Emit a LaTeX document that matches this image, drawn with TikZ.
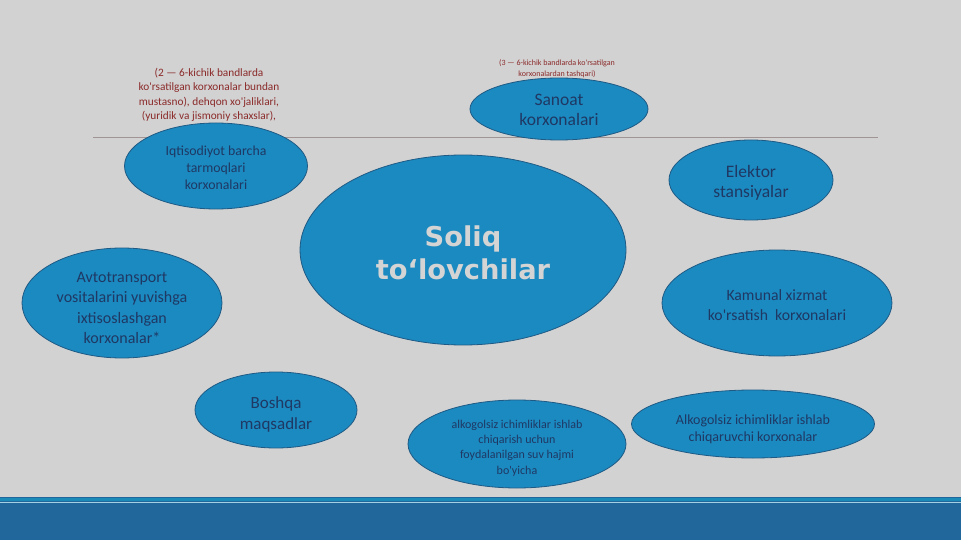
\documentclass[tikz,border=0pt]{standalone}
\usepackage{fontspec}
\usetikzlibrary{shapes.geometric}
\newfontfamily\bodyfont[Ligatures=TeXOff]{Carlito}
\newfontfamily\headfont{DejaVu Sans}
\definecolor{fonrang}{HTML}{D2D2D2}
\definecolor{ovalrang}{HTML}{1B8AC0}
\definecolor{ovalchiz}{HTML}{1F5A85}
\definecolor{matnrang}{HTML}{1F3864}
\definecolor{izohrang}{HTML}{8B2A2A}
\definecolor{chiziqrang}{HTML}{A09494}
\definecolor{pastrang}{HTML}{22679B}
\definecolor{pastchiziq}{HTML}{1A8AB8}
\tikzset{
  oval/.style={ellipse,draw=ovalchiz,fill=ovalrang,line width=0.8pt,inner sep=0pt},
  matn/.style={align=center,text=matnrang,inner sep=0pt},
  izoh/.style={align=center,text=izohrang}
}

\begin{document}
\begin{tikzpicture}[x=1pt,y=-1pt]
        \useasboundingbox (0,0) rectangle (961,540) ;
        \fill[fonrang] (0,0) rectangle (961,540) ;
        % pastki yo'lak
        \fill[pastrang] (0,497) rectangle (961,540) ;
        \draw[pastchiziq,line width=3pt] (0,499) -- (961,499) ;
        \draw[white!60!pastchiziq,line width=0.8pt] (0,502.5) -- (961,502.5) ;
        \draw[chiziqrang,line width=0.8pt] (93,137) -- (878,137) ;
        % izohlar
        \node[izoh,font=\bodyfont\fontsize{11.3}{14.5}\selectfont] (izoh1) at (209,95)
        {(2 — 6-kichik bandlarda\\ko'rsatilgan korxonalar bundan\\mustasno), dehqon xo'jaliklari,\\(yuridik va jismoniy shaxslar),} ;
        \node[izoh,font=\bodyfont\fontsize{8}{11}\selectfont] (izoh2) at (557,69)
        {(3 — 6-kichik bandlarda ko'rsatilgan\\korxonalardan tashqari)} ;
        % ovallar
        \node[oval,minimum width=178,minimum height=62] (sanoat) at (559,109) {} ;
        \node[matn,font=\bodyfont\fontsize{17.5}{20}\selectfont] (sanoatm)
        at ([yshift=-1]sanoat.center) {Sanoat\\korxonalari} ;
        \node[oval,minimum width=183,minimum height=86] (iqtisod) at (216,166) {} ;
        \node[matn,font=\bodyfont\fontsize{13.8}{17}\selectfont] (iqtisodm)
        at ([yshift=-2]iqtisod.center) {Iqtisodiyot barcha\\tarmoqlari\\korxonalari} ;
        \node[oval,minimum width=164,minimum height=80] (elektr) at (751,180) {} ;
        \node[matn,font=\bodyfont\fontsize{17.5}{20}\selectfont] (elektrm)
        at ([yshift=-3]elektr.center) {Elektor\\stansiyalar} ;
        \node[oval,minimum width=326,minimum height=190] (soliq) at (463,250) {} ;
        \node[matn,text=fonrang!95!white,font=\headfont\bfseries\fontsize{27.3}{33}\selectfont] (soliqm)
        at ([yshift=-3]soliq.center) {Soliq\\to‘lovchilar} ;
        \node[oval,minimum width=200,minimum height=110] (avto) at (122,303) {} ;
        \node[matn,font=\bodyfont\fontsize{16}{20.3}\selectfont] (avtom)
        at ([yshift=-5]avto.center) {Avtotransport\\vositalarini yuvishga\\ixtisoslashgan\\korxonalar*} ;
        \node[oval,minimum width=230,minimum height=106] (kommunal) at (777,303) {} ;
        \node[matn,font=\bodyfont\fontsize{15.7}{20}\selectfont] (kommunalm)
        at ([yshift=-2]kommunal.center) {Kamunal xizmat\\ko'rsatish\ \ korxonalari} ;
        \node[oval,minimum width=162,minimum height=76] (boshqa) at (276,410) {} ;
        \node[matn,font=\bodyfont\fontsize{17}{21}\selectfont] (boshqam)
        at ([yshift=-4]boshqa.center) {Boshqa\\maqsadlar} ;
        \node[oval,minimum width=218,minimum height=88] (suv) at (517,444) {} ;
        \node[matn,font=\bodyfont\fontsize{12}{15.3}\selectfont] (suvm)
        at ([yshift=-4]suv.center) {alkogolsiz ichimliklar ishlab\\chiqarish uchun\\foydalanilgan suv hajmi\\bo'yicha} ;
        \node[oval,minimum width=243,minimum height=68] (ichimlik) at (753,424) {} ;
        \node[matn,font=\bodyfont\fontsize{14}{17}\selectfont] (ichimlikm)
        at ([yshift=-5]ichimlik.center) {Alkogolsiz ichimliklar ishlab\\chiqaruvchi korxonalar} ;
      \end{tikzpicture}
\end{document}
